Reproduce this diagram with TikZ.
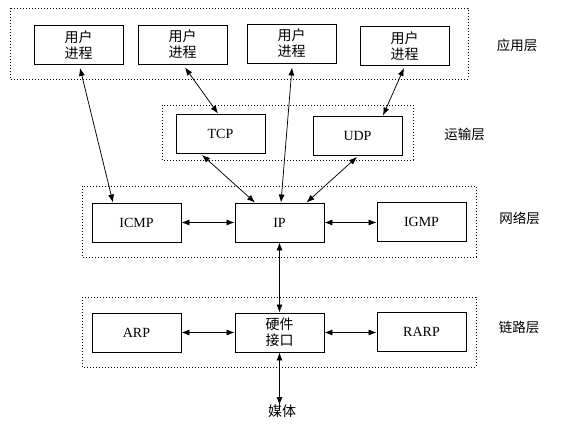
\documentclass[tikz,border=0pt]{standalone}
\usepackage{fontspec}
\setmainfont{Liberation Serif}
\newfontfamily\cjk{Noto Sans CJK SC}
\usetikzlibrary{arrows.meta,calc}
\begin{document}
\begin{tikzpicture}[x=1pt,y=-1pt,
  box/.style={draw,line width=0.9pt,minimum width=89pt,minimum height=39pt,inner sep=0pt,font=\fontsize{14}{16}\selectfont,align=center},
  cbox/.style={box,font=\cjk\fontsize{14}{16}\selectfont},
  layer/.style={draw,line width=0.9pt,dash pattern=on 1pt off 2pt},
  lbl/.style={font=\cjk\fontsize{13.5}{16}\selectfont,inner sep=0pt},
  link/.style={line width=0.75pt,{Latex[length=8pt,width=6pt]}-{Latex[length=8pt,width=6pt]}}]
\useasboundingbox[fill=white] (0,0) rectangle (581,430);
% layers
\draw[layer] (10,8) rectangle (468,79);
\draw[layer] (162,105) rectangle (413,160);
\draw[layer] (82,186) rectangle (476,257);
\draw[layer] (82,297) rectangle (476,367);
% nodes
\node[cbox] (p1) at (78.5,45) {用户\\进程};
\node[cbox] (p2) at (182.5,44.5) {用户\\进程};
\node[cbox] (p3) at (291.5,43.5) {用户\\进程};
\node[cbox] (p4) at (404.5,46) {用户\\进程};
\node[box] (tcp) at (220.5,133.5) {TCP};
\node[box] (udp) at (357.5,135.5) {UDP};
\node[box] (icmp) at (136.5,222.5) {ICMP};
\node[box] (ip) at (279.5,222.5) {IP};
\node[box] (igmp) at (421.5,222) {IGMP};
\node[box] (arp) at (136.5,332.5) {ARP};
\node[cbox] (hw) at (279.5,332.5) {硬件\\接口};
\node[box] (rarp) at (421.5,331.5) {RARP};
% labels
\node[lbl] (la) at (517,45) {应用层};
\node[lbl] (lt) at (464.5,134) {运输层};
\node[lbl] (ln) at (519.5,218) {网络层};
\node[lbl] (ll) at (519,327) {链路层};
\node[font=\cjk\fontsize{14}{16}\selectfont,inner sep=0pt,anchor=north] (media) at (282,405) {媒体};
% connectors
\draw[link] ([xshift=1.5pt,yshift=-3pt]p1.south) -- ([xshift=-23.5pt]icmp.north);
\draw[link] ([xshift=2.5pt,yshift=-3pt]p2.south) -- ([xshift=-2.5pt]tcp.north);
\draw[link] ([xshift=0.5pt,yshift=-4pt]p3.south) -- ([xshift=1.5pt]ip.north);
\draw[link] ([xshift=-0.5pt,yshift=-2pt]p4.south) -- ([xshift=25.5pt]udp.north);
\draw[link] ([xshift=-18.5pt,yshift=-1.5pt]tcp.south) -- ([xshift=-24.5pt]ip.north);
\draw[link] ([xshift=-0.5pt,yshift=-1.5pt]udp.south) -- ([xshift=27pt]ip.north);
\draw[link] (icmp.east) -- (ip.west);
\draw[link] (ip.east) -- (igmp.west |- ip.east);
\draw[link] (ip.south) -- (hw.north);
\draw[link] (arp.east) -- (hw.west);
\draw[link] (hw.east) -- (rarp.west |- hw.east);
\draw[link] (hw.south) -- (hw.south |- media.north);
\end{tikzpicture}
\end{document}
